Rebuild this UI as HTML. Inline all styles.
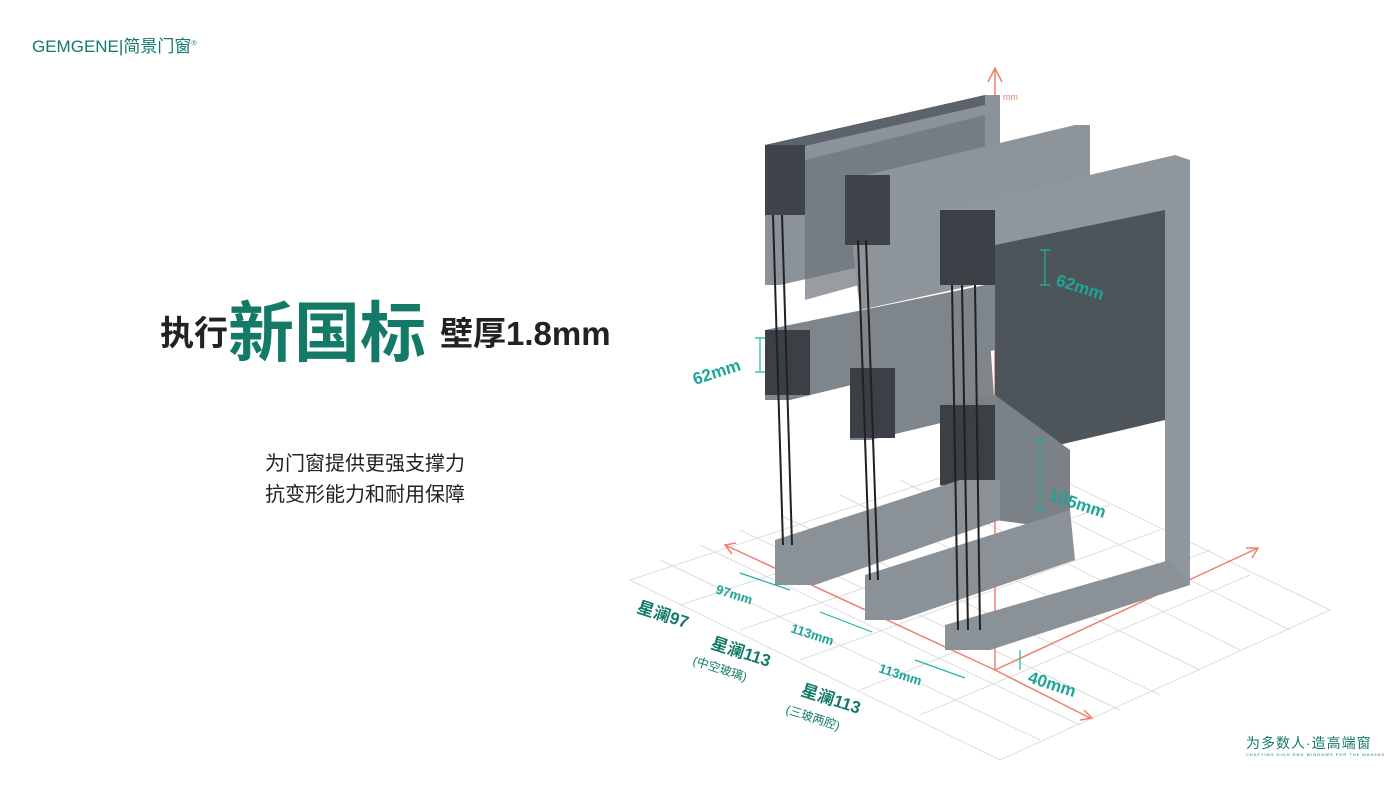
<!DOCTYPE html>
<html><head><meta charset="utf-8">
<style>
body{margin:0;width:1400px;height:787px;background:#fff;overflow:hidden;position:relative;font-family:"Liberation Sans","Noto Sans CJK SC",sans-serif}
.t{position:absolute;white-space:nowrap}
</style></head><body>
<div class="t" style="left:32px;top:32px;font-size:17px;color:#117a68;letter-spacing:0">GEMGENE|简景门窗<sup style="font-size:7px">®</sup></div>
<div class="t" style="left:160px;top:306px;font-size:34px;font-weight:bold;color:#222">执行</div>
<div class="t" style="left:228px;top:280px;font-size:66px;font-weight:bold;color:#137a68">新国标</div>
<div class="t" style="left:440px;top:307px;font-size:33px;font-weight:bold;color:#222">壁厚1.8mm</div>
<div class="t" style="left:265px;top:449px;font-size:20px;color:#222;line-height:31px">为门窗提供更强支撑力<br>抗变形能力和耐用保障</div>
<div class="t" style="left:1246px;top:733px;font-size:14px;color:#137a68;letter-spacing:1px">为多数人·造高端窗</div>
<div class="t" style="left:1246px;top:752px;font-size:4px;color:#137a68;letter-spacing:1px">CRAFTING HIGH-END WINDOWS FOR THE MASSES</div>
<svg style="position:absolute;left:0;top:0" width="1400" height="787">
<g stroke="#ddd" stroke-width="1" fill="none">
<path d="M630 580 L1000 760 M660 560 L1040 740 M700 545 L1080 725 M740 530 L1120 710 M780 515 L1160 695 M840 495 L1200 670 M900 480 L1240 650 M960 465 L1290 630 M1010 455 L1330 610"/>
<path d="M630 580 L1010 455 M680 605 L1060 480 M740 630 L1110 505 M800 660 L1160 530 M860 690 L1210 550 M920 715 L1250 575 M1000 760 L1330 610"/>
</g>
<g stroke="#f08070" stroke-width="1.5" fill="none">
<path d="M995 70 L995 670 M988 82 L995 68 L1002 82"/>
<path d="M995 670 L725 545 M736 543 L725 545 L732 554"/>
<path d="M995 670 L1258 548 M1246 548 L1258 548 L1252 558"/>
<path d="M995 670 L1090 718 M1080 720 L1092 718 L1084 710"/>
</g>
<g fill="#f08070" font-size="9">
<text x="1003" y="100">mm</text><text x="1003" y="245">700</text><text x="1003" y="310">600</text><text x="1003" y="372">500</text><text x="1003" y="437">400</text><text x="1003" y="500">300</text><text x="1003" y="560">200</text><text x="1003" y="622">100</text>
</g>
<g>
<polygon points="765,145 985,95 1000,95 1000,235 780,285 765,285" fill="#8b9299"/>
<polygon points="765,145 985,95 985,105 765,155" fill="#5c636a"/>
<rect x="765" y="145" width="40" height="70" fill="#3e444a"/>
<polygon points="805,160 985,115 985,250 805,300" fill="#6d747a" opacity="0.7"/>
<polygon points="845,180 1075,125 1090,125 1090,260 860,310" fill="#8d949a"/>
<rect x="845" y="175" width="45" height="70" fill="#3e444a"/>
<polygon points="940,210 1175,155 1190,160 1190,585 1165,590 1165,240 995,285 940,285" fill="#8f969c"/>
<polygon points="995,245 1165,210 1165,420 995,460" fill="#4d545a"/>
<rect x="940" y="210" width="55" height="75" fill="#3a4046"/>
<polygon points="765,330 985,285 995,285 995,350 790,400 765,400" fill="#7e858b"/>
<rect x="765" y="330" width="45" height="65" fill="#3a4046"/>
<polygon points="850,370 990,340 995,410 870,440 850,440" fill="#7e858b"/>
<rect x="850" y="368" width="45" height="70" fill="#3a4046"/>
<polygon points="940,405 995,395 1070,450 1070,530 995,520 940,485" fill="#7a8187"/>
<rect x="940" y="405" width="55" height="80" fill="#3a4046"/>
<polygon points="775,540 960,480 1000,480 1000,520 815,585 775,585" fill="#8a9197"/>
<polygon points="865,575 1070,510 1075,560 900,620 865,620" fill="#8a9197"/>
<polygon points="945,625 1170,560 1190,585 990,650 945,650" fill="#8a9197"/>
<g stroke="#222" stroke-width="2">
<path d="M773 215 L783 545 M782 215 L792 545 M858 240 L870 580 M866 240 L878 580 M952 285 L958 630 M962 285 L968 630 M975 285 L980 630"/>
</g>
</g>
<g stroke="#1fb5a5" stroke-width="1.2" fill="none">
<path d="M1045 250 L1045 285 M1040 250 L1050 250 M1040 285 L1050 285"/>
<path d="M760 338 L760 372 M755 338 L765 338 M755 372 L765 372"/>
<path d="M1040 440 L1040 510 M1035 440 L1045 440 M1035 510 L1045 510"/>
<path d="M1020 650 L1020 670"/>
<path d="M740 573 L790 590 M820 612 L872 632 M915 660 L965 678"/>
</g>
<g fill="#1ba697" font-weight="bold" font-size="17">
<text x="1055" y="285" transform="rotate(18 1055 285)">62mm</text>
<text x="695" y="385" transform="rotate(-18 695 385)">62mm</text>
<text x="1048" y="500" transform="rotate(18 1048 500)">105mm</text>
<text x="1027" y="682" transform="rotate(18 1027 682)">40mm</text>
<text x="715" y="593" font-size="13" transform="rotate(18 715 593)">97mm</text>
<text x="790" y="632" font-size="13" transform="rotate(18 790 632)">113mm</text>
<text x="878" y="672" font-size="13" transform="rotate(18 878 672)">113mm</text>
</g>
<g fill="#137a68" font-weight="bold" font-size="17">
<text x="636" y="612" transform="rotate(18 636 612)">星澜97</text>
<text x="710" y="648" transform="rotate(18 710 648)">星澜113</text>
<text x="800" y="695" transform="rotate(18 800 695)">星澜113</text>
<text x="692" y="664" font-size="12" font-weight="normal" transform="rotate(18 692 664)">(中空玻璃)</text>
<text x="785" y="713" font-size="12" font-weight="normal" transform="rotate(18 785 713)">(三玻两腔)</text>
</g>
</svg>
</body></html>
